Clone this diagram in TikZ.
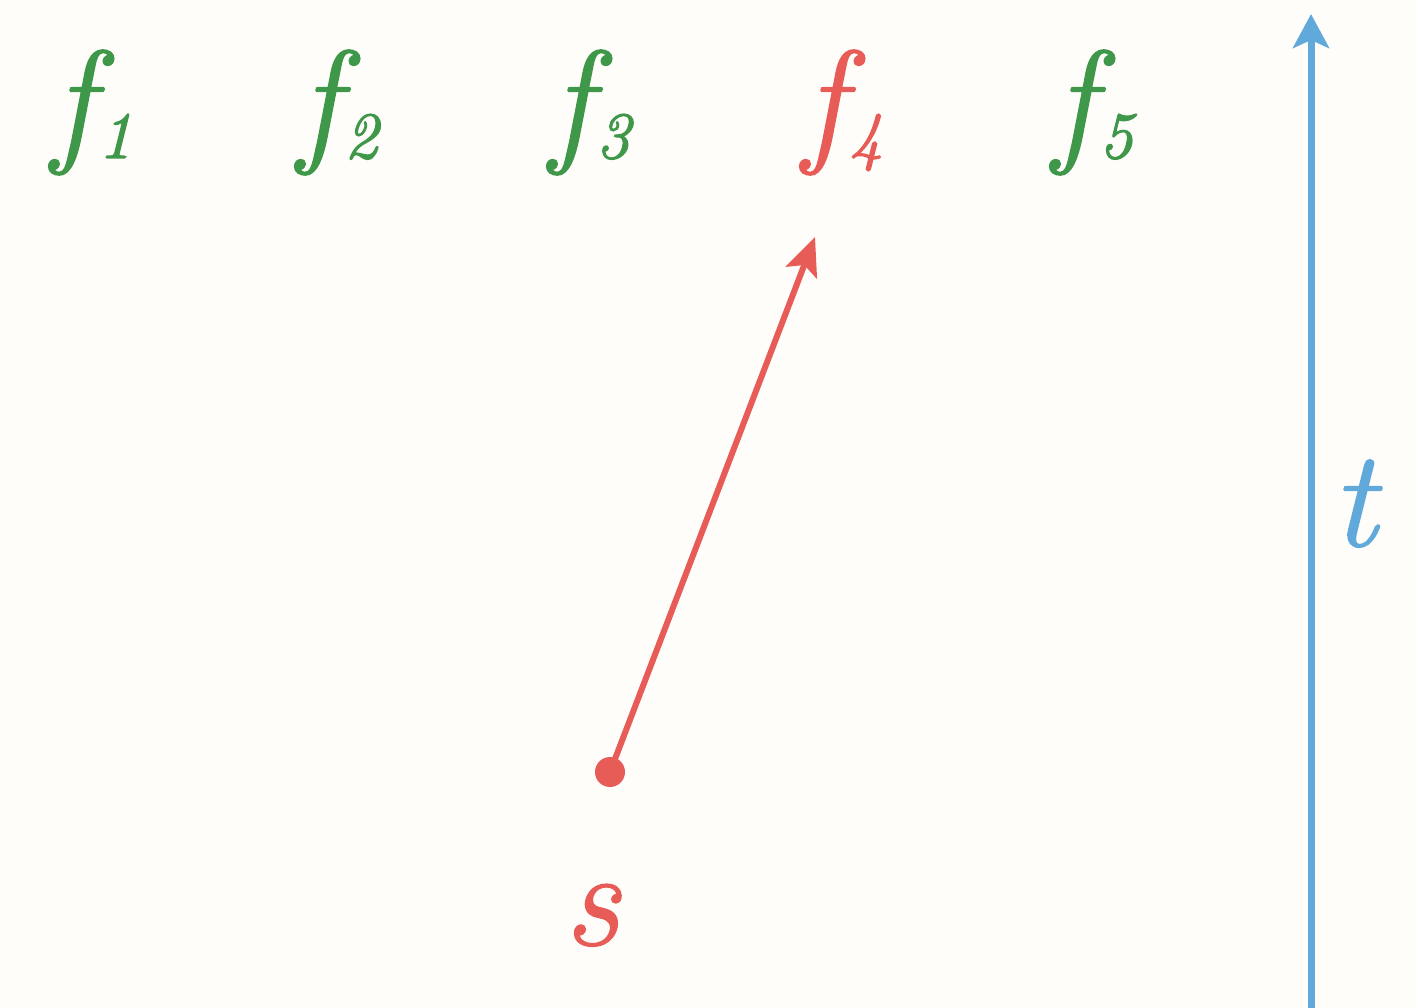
\documentclass[tikz,border=0pt]{standalone}
\usepackage{fontspec}
\usetikzlibrary{arrows.meta}
\definecolor{bgc}{HTML}{FFFDF9}
\definecolor{redc}{HTML}{E85C58}
\definecolor{bluec}{HTML}{61A8DB}
\definecolor{greenc}{HTML}{3F974A}
\newcommand{\heavy}[1]{\special{pdf:literal direct 2 Tr 1.4 w}#1\special{pdf:literal direct 0 Tr}}
\tikzset{
  lbl/.style={inner sep=0pt, anchor=base, font=\itshape\fontsize{138}{138}\selectfont},
  fn/.style={lbl, text=greenc},
}
\newcommand{\fsub}[1]{\heavy{f\kern5pt\raisebox{-11pt}{\fontsize{66}{66}\selectfont #1}}}
\begin{document}
\begin{tikzpicture}[x=1pt,y=-1pt]
\fill[bgc] (0,0) rectangle (1415,1008);
\useasboundingbox (0,0) rectangle (1415,1008);
\node[fn] (f1) at (92,147) {\fsub{1}};
\node[fn] (f2) at (338,147) {\fsub{2}};
\node[fn] (f3) at (590,147) {\fsub{3}};
\node[lbl, text=redc] (f4) at (843,147) {\fsub{4}};
\node[fn] (f5) at (1093,147) {\fsub{5}};
\node[lbl, text=redc] (s) at (592,945) {\heavy{s}};
\node[lbl, text=bluec] (t) at (1354,546) {\heavy{t}};
\coordinate (b0) at (1311,1008);
\coordinate (b1) at (1311,14);
\draw[bluec, line width=7pt, -{Stealth[length=34pt,width=36pt,inset=8pt]}] (b0) -- (b1);
\coordinate (p0) at (610,772);
\coordinate (p1) at (815,237);
\fill[redc] (p0) circle (15pt);
\draw[redc, line width=6pt, -{Stealth[length=38pt,width=33pt,inset=8pt]}] (p0) -- (p1);
\end{tikzpicture}
\end{document}
